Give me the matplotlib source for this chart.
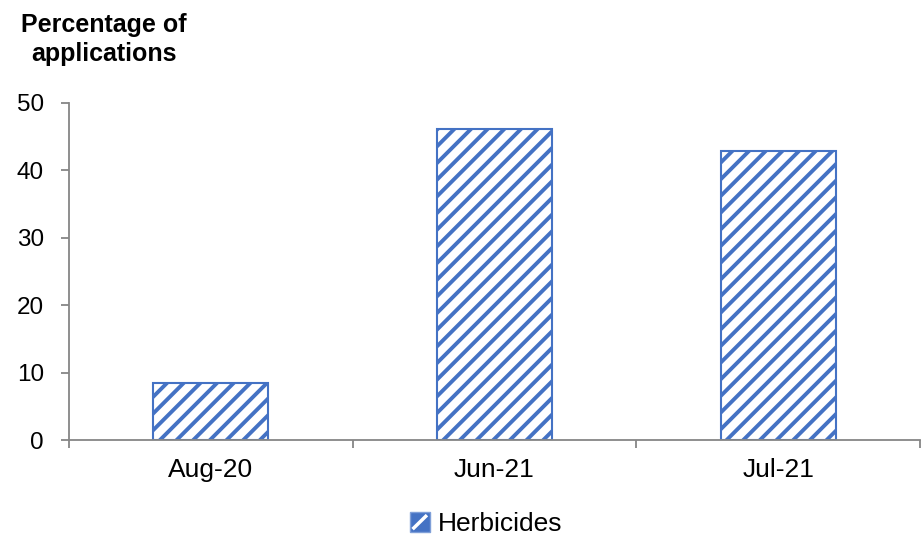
import numpy as np
import matplotlib
matplotlib.use('Agg')
import matplotlib.pyplot as plt
from matplotlib.legend_handler import HandlerBase
from matplotlib.patches import Rectangle
from matplotlib.lines import Line2D

plt.rcParams['font.family'] = ['Liberation Sans', 'DejaVu Sans']
plt.rcParams['hatch.linewidth'] = 2.8

months = ['Aug-20', 'Jun-21', 'Jul-21']
herbicides = [8.5, 46.2, 42.9]

blue = '#4472C4'
grey = '#868686'


class StripeKey(HandlerBase):
    # small solid key with one white stripe, like the office-style legend icon
    def create_artists(self, legend, orig_handle, xdescent, ydescent,
                       width, height, fontsize, trans):
        x0, y0 = -xdescent, -ydescent
        box = Rectangle((x0, y0), width, height, facecolor=blue,
                        edgecolor='#7f9fd8', linewidth=1, transform=trans)
        stripe = Line2D([x0 + 0.2 * width, x0 + 0.8 * width],
                        [y0 + 0.2 * height, y0 + 0.8 * height],
                        color='white', linewidth=2.5, transform=trans)
        return [box, stripe]


fig = plt.figure(figsize=(9.21, 5.36), dpi=100)
ax = fig.add_axes([0.0749, 0.179, 0.924, 0.629])

x = np.arange(len(months))
bars = ax.bar(x, herbicides, width=0.405, facecolor='white', edgecolor=blue,
              hatch='//', linewidth=1.5, label='Herbicides', zorder=2)

ax.set_xlim(-0.5, 2.5)
ax.set_ylim(0, 50)
ax.set_yticks([0, 10, 20, 30, 40, 50])
ax.tick_params(axis='y', labelsize=17.5, length=6, width=1.3, color=grey, pad=12)

# category labels in the middle, tick marks on the category edges
ax.set_xticks(x)
ax.set_xticklabels(months, fontsize=19)
ax.tick_params(axis='x', which='major', length=0, pad=13)
ax.set_xticks([-0.5, 0.5, 1.5, 2.5], minor=True)
ax.tick_params(axis='x', which='minor', length=6, width=1.3, color=grey)

for side in ['top', 'right']:
    ax.spines[side].set_visible(False)
for side in ['left', 'bottom']:
    ax.spines[side].set_color(grey)
    ax.spines[side].set_linewidth(1.3)

fig.text(0.113, 0.975, 'Percentage of\napplications', ha='center', va='top',
         fontsize=18, fontweight='bold', linespacing=1.25)

ax.legend([bars], ['Herbicides'], handler_map={type(bars): StripeKey()},
          loc='center', bbox_to_anchor=(0.49, -0.25), frameon=False,
          fontsize=19, handlelength=0.75, handleheight=0.75, handletextpad=0.3,
          borderpad=0.1)

fig.savefig('out.png', dpi=100)
